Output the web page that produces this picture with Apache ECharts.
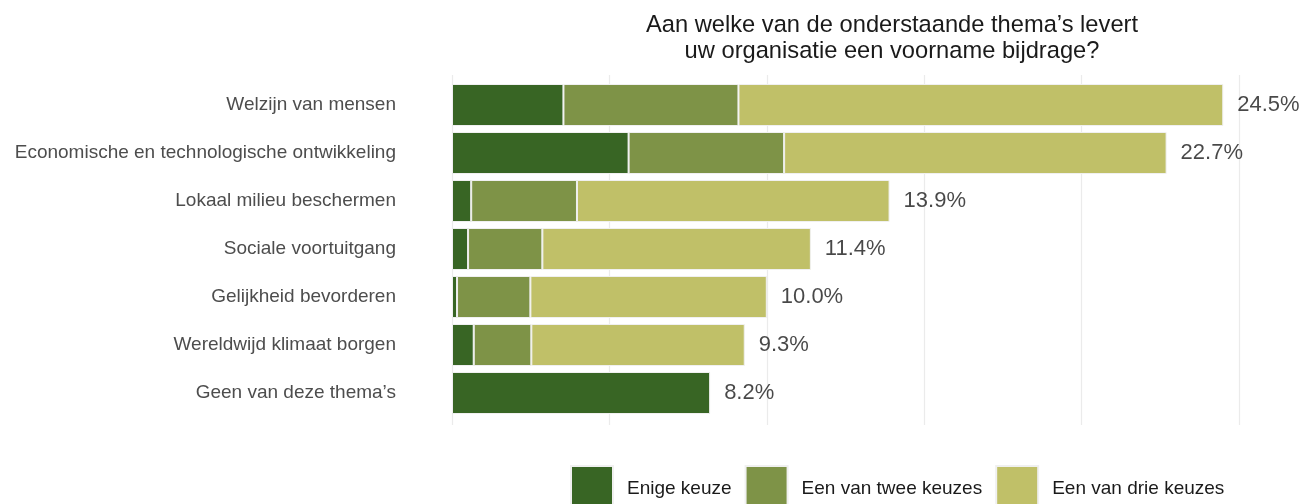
<!DOCTYPE html>
<html>
<head>
<meta charset="utf-8">
<script src="https://cdn.jsdelivr.net/npm/echarts@6/dist/echarts.min.js"></script>
<style>
html,body{margin:0;padding:0;background:#fff;}
#chart{width:1304px;height:504px;}
</style>
</head>
<body>
<div id="chart"></div>
<script>
const categories = [
  'Welzijn van mensen',
  'Economische en technologische ontwikkeling',
  'Lokaal milieu beschermen',
  'Sociale voortuitgang',
  'Gelijkheid bevorderen',
  'Wereldwijd klimaat borgen',
  'Geen van deze thema’s'
];
const seriesNames = ['Enige keuze', 'Een van twee keuzes', 'Een van drie keuzes'];
const enige = [3.54, 5.61, 0.61, 0.51, 0.16, 0.69, 8.2];
const twee  = [5.56, 4.94, 3.36, 2.36, 2.33, 1.83, null];
const drie  = [15.40, 12.15, 9.93, 8.53, 7.51, 6.78, null];
const totals = [24.5, 22.7, 13.9, 11.4, 10.0, 9.3, 8.2];
const xTicks = [0, 5, 10, 15, 20, 25];

const colors = ['#386524', '#7e9347', '#c0c068'];
const FONT = '"Liberation Sans", Arial, sans-serif';

const chart = echarts.init(document.getElementById('chart'), null, {renderer: 'canvas'});

function barSeries(name, data, color) {
  return {
    name: name, type: 'bar', stack: 'total', data: data,
    xAxisIndex: 0, yAxisIndex: 0,
    barWidth: 42,
    itemStyle: {color: color, borderColor: '#f0f0f0', borderWidth: 1},
    emphasis: {disabled: true}
  };
}

const option = {
  animation: false,
  textStyle: {fontFamily: FONT},
  graphic: [{
    type: 'text', x: 892, y: 12,
    style: {
      text: 'Aan welke van de onderstaande thema’s levert\nuw organisatie een voorname bijdrage?',
      fill: '#1a1a1a', font: '23.7px ' + FONT, textAlign: 'center', lineHeight: 26
    }
  }],
  legend: {
    data: seriesNames,
    left: 565, top: 460,
    icon: 'rect', itemWidth: 42, itemHeight: 46, itemGap: 13,
    textStyle: {fontSize: 19, color: '#1a1a1a', fontFamily: FONT, padding: [0, 0, 0, 9]},
    selectedMode: false
  },
  grid: [
    {left: 452, width: 787, top: 81, height: 336},
    {left: 452, width: 787, top: 75, height: 350}
  ],
  xAxis: [
    {type: 'value', gridIndex: 0, min: xTicks[0], max: xTicks[xTicks.length-1], interval: 5,
     axisLabel: {show: false}, axisLine: {show: false}, axisTick: {show: false}, splitLine: {show: false}},
    {type: 'value', gridIndex: 1, min: xTicks[0], max: xTicks[xTicks.length-1], interval: 5,
     axisLabel: {show: false}, axisLine: {show: false}, axisTick: {show: false},
     splitLine: {show: true, lineStyle: {color: '#ebebeb', width: 1.2}}}
  ],
  yAxis: [
    {type: 'category', gridIndex: 0, data: categories, inverse: true,
     axisLine: {show: false}, axisTick: {show: false},
     axisLabel: {fontSize: 19, color: '#4d4d4d', margin: 56, fontFamily: FONT}},
    {type: 'value', gridIndex: 1, show: false, min: 0, max: 1}
  ],
  series: [
    barSeries(seriesNames[0], enige, colors[0]),
    barSeries(seriesNames[1], twee, colors[1]),
    barSeries(seriesNames[2], drie, colors[2]),
    {
      name: 'Totaal', type: 'scatter', xAxisIndex: 0, yAxisIndex: 0,
      symbolSize: 0, silent: true,
      data: totals.map((t, i) => [t, categories[i]]),
      label: {
        show: true, position: 'right', distance: 14,
        formatter: p => p.value[0].toFixed(1) + '%',
        fontSize: 22, color: '#1a1a1a', fontFamily: FONT
      }
    }
  ]
};
chart.setOption(option);
</script>
</body>
</html>
